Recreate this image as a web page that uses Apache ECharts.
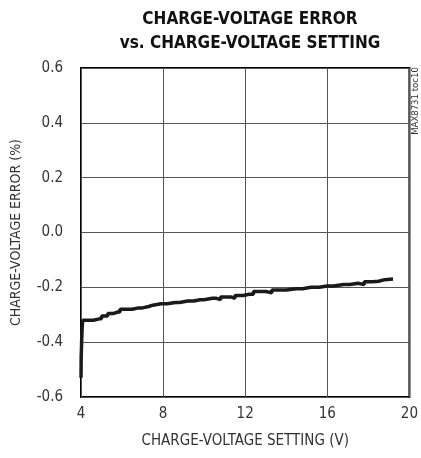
<!DOCTYPE html>
<html><head><meta charset="utf-8">
<script src="https://cdn.jsdelivr.net/npm/echarts@6/dist/echarts.min.js"></script>
<style>html,body{margin:0;padding:0;background:#fff}#c{width:421px;height:458px}</style>
</head><body><div id="c"></div>
<script>
var titleLines = ['CHARGE-VOLTAGE ERROR', 'vs. CHARGE-VOLTAGE SETTING'];
var xName = 'CHARGE-VOLTAGE SETTING (V)';
var yName = 'CHARGE-VOLTAGE ERROR (%)';
var tocLabel = 'MAX8731 toc10';
var xTicks = [4, 8, 12, 16, 20];
var yTicks = [-0.6, -0.4, -0.2, 0.0, 0.2, 0.4, 0.6];
var settingV = [4.0,4.01,4.02,4.03,4.05,4.07,4.1,4.4,4.6,4.9,5.0,5.2,5.3,5.6,5.8,5.9,6.3,6.5,6.8,7.0,7.3,7.5,7.9,8.2,8.6,8.8,9.2,9.5,9.8,10.0,10.4,10.6,10.8,11.0,11.3,11.5,11.9,12.2,12.4,12.8,13.0,13.3,13.8,14.0,14.5,14.8,15.2,15.6,16.0,16.3,16.8,17.1,17.5,17.8,18.2,18.5,18.8,19.2];
var errorPct = [-0.53,-0.45,-0.43,-0.40,-0.36,-0.33,-0.32,-0.32,-0.315,-0.315,-0.305,-0.305,-0.295,-0.29,-0.29,-0.28,-0.28,-0.275,-0.275,-0.27,-0.265,-0.26,-0.26,-0.255,-0.255,-0.25,-0.25,-0.245,-0.245,-0.24,-0.24,-0.245,-0.235,-0.235,-0.24,-0.23,-0.225,-0.225,-0.215,-0.215,-0.22,-0.21,-0.21,-0.205,-0.205,-0.2,-0.2,-0.195,-0.195,-0.19,-0.19,-0.185,-0.19,-0.18,-0.178,-0.172,-0.17,-0.168];

var data = settingV.map(function(v, i){ return [v, errorPct[i]]; });
var FONT = '"Liberation Sans Narrow", "DejaVu Sans Condensed", Arial, sans-serif';
var chart = echarts.init(document.getElementById('c'));
chart.setOption({
  animation: false,
  backgroundColor: '#fff',
  title: {
    text: titleLines.join('\n'),
    left: 245, top: 3, textAlign: 'center',
    textStyle: {fontFamily: FONT, fontWeight: 'bold', fontSize: 17, lineHeight: 24, color: '#111'}
  },
  grid: {left: 81, right: 11, top: 68, bottom: 61, show: true, borderColor: '#000', borderWidth: 2},
  xAxis: {
    type: 'value', min: 4, max: 20, interval: 4,
    name: xName, nameLocation: 'middle', nameGap: 37,
    nameTextStyle: {fontFamily: FONT, fontSize: 15, color: '#333'},
    axisLine: {show: false}, axisTick: {show: false},
    axisLabel: {fontFamily: FONT, fontSize: 15, color: '#333', margin: 10},
    splitLine: {lineStyle: {color: '#555', width: 1}}
  },
  yAxis: {
    type: 'value', min: -0.6, max: 0.6, interval: 0.2,
    name: yName, nameLocation: 'middle', nameGap: 58,
    nameTextStyle: {fontFamily: FONT, fontSize: 14, color: '#333'},
    axisLine: {show: false}, axisTick: {show: false},
    axisLabel: {fontFamily: FONT, fontSize: 15, color: '#333', margin: 18,
      formatter: function(v){ return v.toFixed(1); }},
    splitLine: {lineStyle: {color: '#555', width: 1}}
  },
  graphic: [{
    type: 'text', x: 416, y: 101, rotation: Math.PI/2,
    style: {text: tocLabel, font: '9.5px ' + FONT, fill: '#333', textAlign: 'center', textVerticalAlign: 'middle'}
  }],
  series: [{
    type: 'line', data: data, symbol: 'none', step: 'end',
    lineStyle: {color: '#1a1a1a', width: 3.5}
  }]
});
</script></body></html>
